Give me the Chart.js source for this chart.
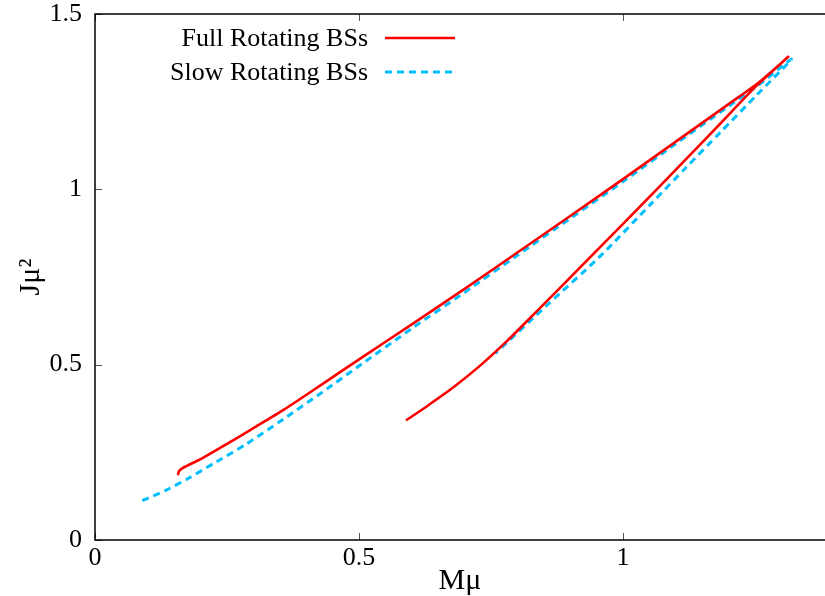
<!DOCTYPE html>
<html>
<head>
<meta charset="utf-8">
<script src="https://cdn.jsdelivr.net/npm/chart.js@4.4.1/dist/chart.umd.min.js"></script>
<style>
  html, body { margin: 0; padding: 0; background: #fff; }
</style>
</head>
<body>
<canvas id="myChart" width="825" height="596"></canvas>
<script>
// full rotating boson stars: upper branch up to the cusp, then back down
const fullMu = [0.157, 0.159, 0.166, 0.180, 0.202, 0.250, 0.300, 0.357, 0.430, 0.508, 0.600, 0.700, 0.800, 0.900, 1.000, 1.100, 1.200, 1.259, 1.313,
                1.254, 1.184, 1.140, 1.064, 0.937, 0.830, 0.780, 0.730, 0.680, 0.630, 0.589];
const fullJ  = [0.185, 0.196, 0.205, 0.216, 0.232, 0.274, 0.319, 0.371, 0.444, 0.523, 0.615, 0.716, 0.820, 0.924, 1.029, 1.136, 1.243, 1.307, 1.378,
                1.297, 1.187, 1.118, 1.000, 0.805, 0.642, 0.567, 0.498, 0.437, 0.383, 0.341];

// slow rotating approximation
const slowMu = [0.0896, 0.136, 0.177, 0.230, 0.287, 0.357, 0.430, 0.508, 0.600, 0.700, 0.800, 0.900, 1.000, 1.100, 1.200, 1.259, 1.319,
                1.254, 1.184, 1.120, 1.054, 0.956, 0.855, 0.758];
const slowJ  = [0.112, 0.143, 0.176, 0.223, 0.274, 0.345, 0.421, 0.505, 0.603, 0.706, 0.812, 0.917, 1.022, 1.130, 1.237, 1.300, 1.371,
                1.270, 1.162, 1.063, 0.960, 0.808, 0.668, 0.532];

const seriesNames = ['Full Rotating BSs', 'Slow Rotating BSs'];
const xTicks = [0, 0.5, 1];
const yTicks = [0, 0.5, 1, 1.5];

const serif = "'Liberation Serif', 'Times New Roman', serif";

function toPoints(xs, ys) {
  return xs.map((x, i) => ({ x: x, y: ys[i] }));
}

// gnuplot style frame: border left/top/bottom, inward ticks, key with text before sample
const framePlugin = {
  id: 'frame',
  afterDatasetsDraw(chart) {
    const ctx = chart.ctx;
    const { left, top, right, bottom } = chart.chartArea;
    const xs = chart.scales.x;
    const ys = chart.scales.y;
    ctx.save();

    ctx.strokeStyle = '#555';
    ctx.lineWidth = 1;
    xTicks.forEach(v => {
      const px = Math.round(xs.getPixelForValue(v)) + 0.5;
      ctx.beginPath();
      ctx.moveTo(px, bottom); ctx.lineTo(px, bottom - 7);
      ctx.moveTo(px, top); ctx.lineTo(px, top + 7);
      ctx.stroke();
    });
    yTicks.forEach(v => {
      const py = Math.round(ys.getPixelForValue(v)) + 0.5;
      ctx.beginPath();
      ctx.moveTo(left, py); ctx.lineTo(left + 7, py);
      ctx.stroke();
    });

    ctx.strokeStyle = '#000';
    ctx.lineWidth = 1.5;
    ctx.beginPath();
    ctx.moveTo(right, top);
    ctx.lineTo(left, top);
    ctx.lineTo(left, bottom);
    ctx.lineTo(right, bottom);
    ctx.stroke();

    // key
    ctx.font = '26px ' + serif;
    ctx.textAlign = 'right';
    ctx.textBaseline = 'middle';
    chart.data.datasets.forEach((ds, i) => {
      const y = 38 + i * 34;
      ctx.fillStyle = '#000';
      ctx.fillText(ds.label, 368, y + 1);
      ctx.strokeStyle = ds.borderColor;
      ctx.lineWidth = ds.borderWidth;
      ctx.setLineDash(ds.borderDash || []);
      ctx.beginPath();
      ctx.moveTo(385, y);
      ctx.lineTo(455, y);
      ctx.stroke();
    });
    ctx.restore();
  }
};

const myChart = new Chart(document.getElementById('myChart').getContext('2d'), {
  type: 'scatter',
  data: {
    datasets: [
      {
        label: seriesNames[0],
        data: toPoints(fullMu, fullJ),
        showLine: true,
        borderColor: '#ff0000',
        borderWidth: 2.6,
        pointRadius: 0,
        tension: 0.25
      },
      {
        label: seriesNames[1],
        data: toPoints(slowMu, slowJ),
        showLine: true,
        borderColor: '#00bfff',
        borderWidth: 3,
        borderDash: [7, 5],
        pointRadius: 0,
        tension: 0.25
      }
    ]
  },
  options: {
    responsive: false,
    animation: false,
    layout: { padding: { top: 14, right: 0, bottom: 0, left: 0 } },
    plugins: {
      legend: { display: false },
      tooltip: { enabled: false }
    },
    scales: {
      x: {
        type: 'linear',
        min: 0,
        max: 1.3826,
        afterBuildTicks: axis => { axis.ticks = xTicks.map(v => ({ value: v })); },
        afterFit: axis => {
          axis.height = 56;
          axis.paddingLeft = 0;
          axis.paddingRight = 0;
        },
        grid: { display: false, drawTicks: false },
        border: { display: false },
        ticks: {
          color: '#000',
          padding: 3,
          maxRotation: 0,
          font: { family: serif, size: 26 },
          callback: v => String(v)
        },
        title: {
          display: true,
          text: 'Mμ',
          color: '#000',
          padding: { top: 0, bottom: 0 },
          font: { family: serif, size: 30, lineHeight: 1 }
        }
      },
      y: {
        type: 'linear',
        min: 0,
        max: 1.5,
        afterBuildTicks: axis => { axis.ticks = yTicks.map(v => ({ value: v })); },
        afterFit: axis => {
          axis.width = 95;
          axis.paddingTop = 0;
          axis.paddingBottom = 0;
        },
        grid: { display: false, drawTicks: false },
        border: { display: false },
        ticks: {
          color: '#000',
          padding: 13,
          font: { family: serif, size: 26 },
          callback: v => String(v)
        },
        title: {
          display: true,
          text: 'Jμ²',
          color: '#000',
          padding: { top: 16, bottom: 0 },
          font: { family: serif, size: 30, lineHeight: 1 }
        }
      }
    }
  },
  plugins: [framePlugin]
});
</script>
</body>
</html>
